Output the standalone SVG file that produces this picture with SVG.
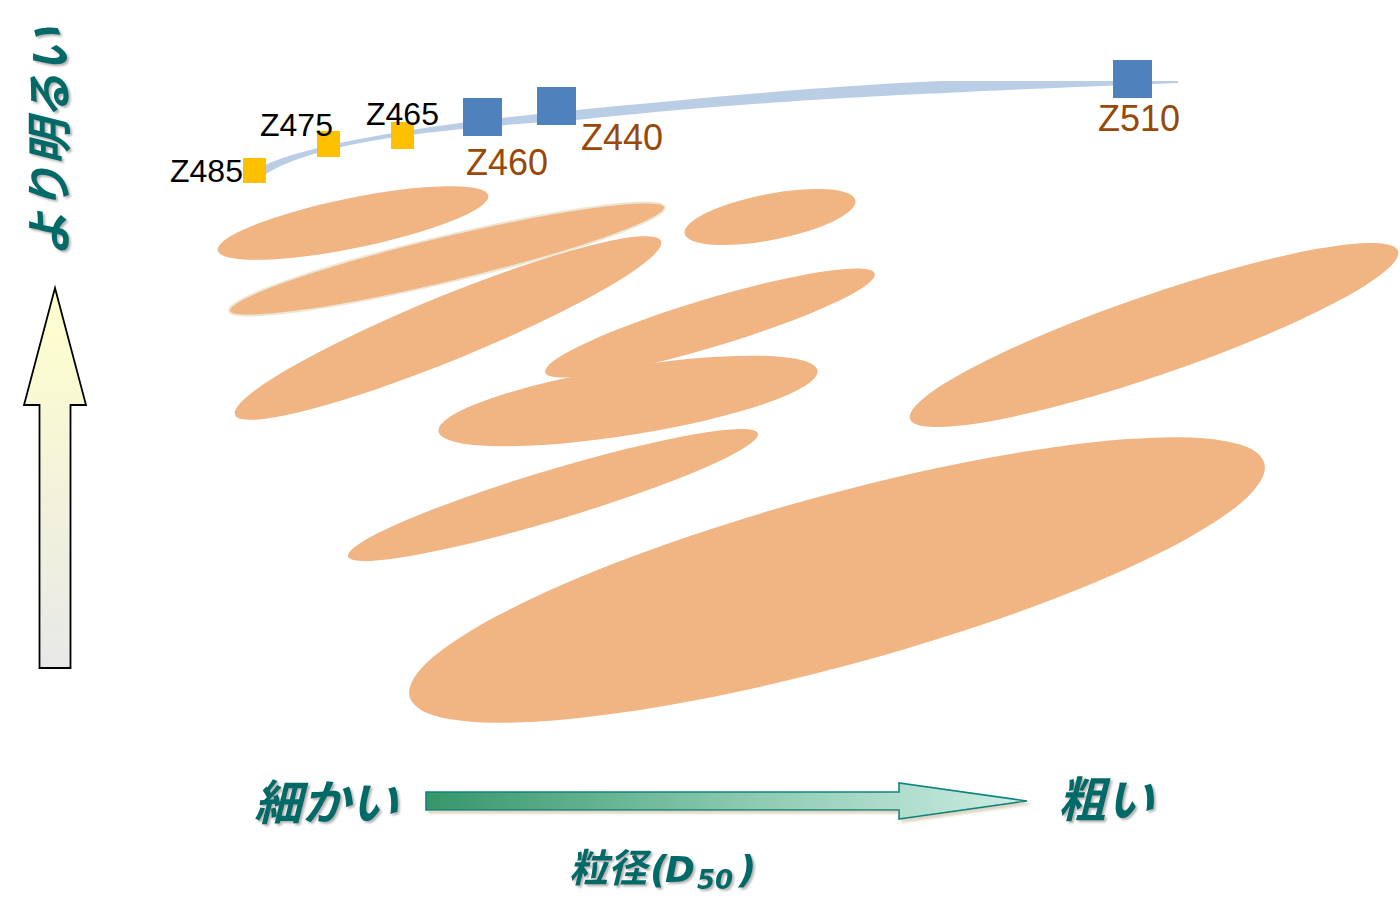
<svg xmlns="http://www.w3.org/2000/svg" width="1400" height="923" viewBox="0 0 1400 923">
<style>
.ell{fill:#F1B483;}
.ysq{fill:#FFC000;}
.bsq{fill:#4F81BD;}
.lblk{font-family:"Liberation Sans",Arial,sans-serif;font-size:32px;fill:#000;}
.lbrn{font-family:"Liberation Sans",Arial,sans-serif;font-size:36px;fill:#984807;}
.jp{font-family:"Noto Sans CJK JP","Noto Sans CJK SC",sans-serif;font-weight:bold;font-style:italic;fill:#006B68;}
.lat{font-family:"DejaVu Sans","Noto Sans",sans-serif;font-weight:bold;font-style:italic;fill:#006B68;}
</style>
<defs>
<linearGradient id="gV" x1="0" y1="0" x2="0" y2="1">
<stop offset="0" stop-color="#FFFFCC"/>
<stop offset="1" stop-color="#E8E8E8"/>
</linearGradient>
<linearGradient id="gH" x1="0" y1="0" x2="1" y2="0">
<stop offset="0" stop-color="#36966A"/>
<stop offset="0.5" stop-color="#86C7AC"/>
<stop offset="1" stop-color="#CDEDE4"/>
</linearGradient>
<filter id="tsh" x="-10%" y="-10%" width="130%" height="130%">
<feDropShadow dx="2" dy="2" stdDeviation="1" flood-color="#777" flood-opacity="0.55"/>
</filter>
<filter id="ash" x="-5%" y="-20%" width="115%" height="160%">
<feDropShadow dx="3" dy="3" stdDeviation="0.8" flood-color="#D9D3BE" flood-opacity="0.9"/>
</filter>
</defs>
<rect width="1400" height="923" fill="#FFFFFF"/>

<g id="connectors">
<path d="M262,166 C320,140 450,122 577,110 C700,98 850,84 945,81 L1178,81 L1178,83 C1100,86 1000,90 945,93 C850,97 700,106 577,120 C450,128 320,140 266,174 Z" fill="#B9CDE5"/>
</g>

<g id="clusters">
<ellipse id="e1" class="ell" cx="353" cy="223" rx="138" ry="25" transform="rotate(-11.5 353 223)"/>
<ellipse id="e3" class="ell" cx="448" cy="328" rx="230" ry="32" transform="rotate(-22.2 448 328)"/>
<ellipse id="e2" class="ell" cx="447" cy="259" rx="224" ry="23" transform="rotate(-13.4 447 259)" stroke="#ECE6D4" stroke-width="2"/>
<ellipse id="e4" class="ell" cx="770" cy="217" rx="87" ry="23" transform="rotate(-11 770 217)"/>
<ellipse id="e5" class="ell" cx="710" cy="323" rx="172" ry="24" transform="rotate(-16.7 710 323)"/>
<ellipse id="e6" class="ell" cx="628" cy="401" rx="192" ry="34" transform="rotate(-9.1 628 401)"/>
<ellipse id="e7" class="ell" cx="553" cy="495" rx="214" ry="25" transform="rotate(-16.7 553 495)"/>
<ellipse id="e8" class="ell" cx="1154" cy="335" rx="258" ry="40" transform="rotate(-19 1154 335)"/>
<ellipse id="e9" class="ell" cx="837" cy="580" rx="443" ry="85" transform="rotate(-15.3 837 580)"/>
</g>

<g id="z485"><rect class="ysq" x="243" y="158" width="23" height="25"/><text class="lblk" x="170" y="182">Z485</text></g>
<g id="z475"><rect class="ysq" x="317" y="131" width="23" height="26"/><text class="lblk" x="260" y="136">Z475</text></g>
<g id="z465"><rect class="ysq" x="391" y="122" width="23" height="27"/><text class="lblk" x="366" y="125">Z465</text></g>
<g id="z460"><rect class="bsq" x="463" y="98" width="39" height="38"/><text class="lbrn" x="466" y="175">Z460</text></g>
<g id="z440"><rect class="bsq" x="537" y="87" width="39" height="38"/><text class="lbrn" x="581" y="150">Z440</text></g>
<g id="z510"><rect class="bsq" x="1113" y="60" width="39" height="38"/><text class="lbrn" x="1098" y="131">Z510</text></g>

<g id="y-axis">
<path d="M55,288 L86,405 L70.5,405 L70.5,668 L39.5,668 L39.5,405 L24,405 Z" fill="url(#gV)" stroke="#000" stroke-width="1.8" stroke-linejoin="miter"/>
<g filter="url(#tsh)">
<text class="jp" font-size="46" text-anchor="middle" transform="translate(66,142) rotate(-90)">より明るい</text>
</g>
</g>

<g id="x-axis">
<path d="M426,792 L899,792 L899,783 L1027,801 L899,819 L899,810 L426,810 Z" fill="url(#gH)" stroke="#0E8480" stroke-width="1.6" filter="url(#ash)"/>
<g filter="url(#tsh)">
<text class="jp" font-size="48" x="254" y="820">細かい</text>
<text class="jp" font-size="48" x="1058" y="817">粗い</text>
<text y="882"><tspan class="jp" font-size="39" x="569">粒径</tspan><tspan class="lat" font-size="38" x="650">(</tspan><tspan class="lat" font-size="36" x="665">D</tspan><tspan class="lat" font-size="26" x="697" y="889">50</tspan><tspan class="lat" font-size="38" x="739" y="882">)</tspan></text>
</g>
</g>
</svg>
